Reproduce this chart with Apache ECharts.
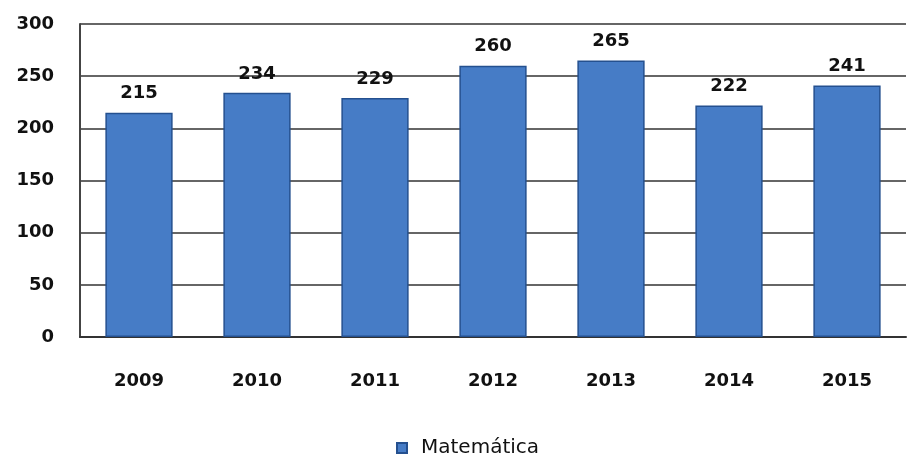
<!DOCTYPE html>
<html>
<head>
<meta charset="utf-8">
<script src="https://cdn.jsdelivr.net/npm/echarts@6/dist/echarts.min.js"></script>
<style>
html, body { margin: 0; padding: 0; background: #fff; }
#main { width: 907px; height: 459px; }
</style>
</head>
<body>
<div id="main"></div>
<script>
var years = ['2009', '2010', '2011', '2012', '2013', '2014', '2015'];
var matematica = [215, 234, 229, 260, 265, 222, 241];
var yTicks = [0, 50, 100, 150, 200, 250, 300];

var myChart = echarts.init(document.getElementById('main'));
var font = 'DejaVu Sans';

option = {
    animation: false,
    textStyle: { fontFamily: font },
    grid: { left: 80, right: 1, top: 24, bottom: 122 },
    legend: {
        top: 433,
        left: 391,
        icon: 'rect',
        itemWidth: 10,
        itemHeight: 10,
        itemGap: 8,
        textStyle: { fontSize: 20, color: '#111', fontFamily: font, padding: [0, 0, 0, 9] }
    },
    xAxis: {
        type: 'category',
        data: years,
        axisTick: { show: false },
        axisLine: { lineStyle: { color: '#333', width: 2 } },
        axisLabel: { fontSize: 18, fontWeight: 'bold', color: '#111', margin: 35 }
    },
    yAxis: {
        type: 'value',
        min: yTicks[0],
        max: yTicks[yTicks.length - 1],
        interval: 50,
        axisLine: { show: true, lineStyle: { color: '#444', width: 2 } },
        axisTick: { show: false },
        axisLabel: { fontSize: 18, fontWeight: 'bold', color: '#111', margin: 26 },
        splitLine: { lineStyle: { color: '#333', width: 1.5 } }
    },
    series: [{
        name: 'Matemática',
        type: 'bar',
        data: matematica,
        barWidth: '57%',
        itemStyle: { color: '#467cc6', borderColor: '#24508f', borderWidth: 1.5 },
        label: { show: true, position: 'top', distance: 10, fontSize: 18, fontWeight: 'bold', color: '#111' }
    }]
};
myChart.setOption(option);
</script>
</body>
</html>
